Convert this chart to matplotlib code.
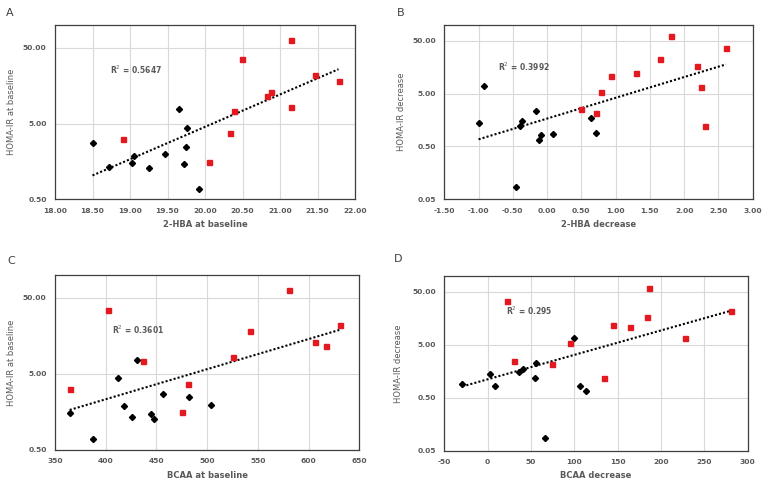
import matplotlib
matplotlib.use("Agg")
import matplotlib.pyplot as plt
import numpy as np
from matplotlib.ticker import FormatStrFormatter, FixedLocator, NullLocator

W, H = 762, 483
GRAY = "#595959"
RED = "#e3191f"

# Panel A: 2-HBA at baseline vs HOMA-IR at baseline
a_x_black = [18.50, 18.72, 19.03, 19.05, 19.25, 19.47, 19.65, 19.76, 19.75, 19.72, 19.92]
a_y_black = [2.74, 1.35, 1.52, 1.88, 1.28, 1.96, 7.7, 4.32, 2.48, 1.46, 0.69]
a_x_red = [18.90, 20.05, 20.33, 20.39, 20.49, 20.83, 20.88, 21.15, 21.15, 21.46, 21.78]
a_y_red = [3.12, 1.55, 3.71, 7.38, 35.1, 11.6, 12.9, 8.3, 63.0, 21.8, 18.5]

# Panel B: 2-HBA decrease vs HOMA-IR decrease
b_x_black = [-1.00, -0.92, -0.45, -0.40, -0.36, -0.16, -0.12, -0.085, 0.086, 0.64, 0.72]
b_y_black = [1.40, 6.9, 0.086, 1.21, 1.55, 2.33, 0.67, 0.81, 0.86, 1.74, 0.90]
b_x_red = [0.49, 0.72, 0.78, 0.93, 1.29, 1.65, 1.81, 2.19, 2.25, 2.31, 2.61]
b_y_red = [2.58, 2.17, 5.46, 11.0, 12.6, 22.6, 62.3, 16.9, 6.8, 1.21, 36.2]

# Panel C: BCAA at baseline vs HOMA-IR at baseline
c_x_black = [364.5, 387.8, 412.4, 417.7, 425.9, 430.8, 444.3, 447.9, 456.1, 482.4, 504.1]
c_y_black = [1.51, 0.70, 4.36, 1.89, 1.36, 7.67, 1.47, 1.28, 2.75, 2.48, 1.97]
c_x_red = [364.5, 402.3, 436.8, 475.5, 481.4, 525.8, 541.9, 580.4, 606.7, 617.2, 631.3]
c_y_red = [3.13, 35.1, 7.37, 1.56, 3.72, 8.32, 18.4, 63.7, 13.0, 11.7, 21.7]

# Panel D: BCAA decrease vs HOMA-IR decrease
d_x_black = [-29.2, 3.1, 8.5, 36.0, 41.0, 54.2, 56.2, 66.2, 99.2, 106.2, 113.8]
d_y_black = [0.91, 1.40, 0.82, 1.55, 1.72, 1.17, 2.32, 0.087, 6.8, 0.84, 0.67]
d_x_red = [22.3, 30.8, 74.6, 94.6, 134.6, 145.0, 164.2, 183.8, 186.2, 228.1, 280.8]
d_y_red = [34.3, 2.53, 2.13, 5.37, 1.17, 12.1, 10.9, 16.6, 59.5, 6.7, 22.2]

r2_labels = ["R$^2$ = 0.5647", "R$^2$ = 0.3992", "R$^2$ = 0.3601", "R$^2$ = 0.295"]


def px_axes(fig, left, top, right, bottom):
    return fig.add_axes([left / W, 1 - bottom / H, (right - left) / W, (bottom - top) / H])


def panel(fig, box, xb, yb, xr, yr, xlim, xticks, xfmt, ylim, yticks, xlabel, ylabel,
          letter, letter_xy, r2, r2_xy, ylab_x, xlab_y):
    ax = px_axes(fig, *box)
    left, top, right, bottom = box
    ax.set_yscale("log")
    ax.set_xlim(*xlim)
    ax.set_ylim(*ylim)
    ax.xaxis.set_major_locator(FixedLocator(xticks))
    ax.yaxis.set_major_locator(FixedLocator(yticks))
    ax.yaxis.set_minor_locator(NullLocator())
    ax.xaxis.set_major_formatter(FormatStrFormatter(xfmt))
    ax.yaxis.set_major_formatter(FormatStrFormatter("%.2f"))
    ax.grid(True, color="#d9d9d9", lw=0.8)
    ax.set_axisbelow(True)
    for s in ax.spines.values():
        s.set_color("#3f3f3f")
        s.set_linewidth(0.9)
    ax.tick_params(length=0, labelsize=5.4, labelcolor=GRAY, pad=6)
    for t in ax.get_xticklabels() + ax.get_yticklabels():
        t.set_fontweight("bold")

    # exponential trendline over all points
    xs = np.array(xb + xr)
    ys = np.array(yb + yr)
    k, b = np.polyfit(xs, np.log(ys), 1)
    xt = np.linspace(xs.min(), xs.max(), 50)
    ax.plot(xt, np.exp(k * xt + b), color="black", ls=(0, (1, 1)), lw=1.5, zorder=2)

    ax.plot(xb, yb, "D", color="black", ms=3.1, mec="black", zorder=3)
    ax.plot(xr, yr, "s", color=RED, ms=3.6, mec=RED, zorder=3)

    fig.text(letter_xy[0] / W, 1 - letter_xy[1] / H, letter, fontsize=8, color="#404040",
             ha="center", va="center")
    fig.text(r2_xy[0] / W, 1 - r2_xy[1] / H, r2, fontsize=5.5, color=GRAY,
             fontweight="bold", ha="left", va="center")
    fig.text(ylab_x / W, 1 - (top + bottom) / 2 / H, ylabel, fontsize=6, color=GRAY,
             rotation=90, ha="center", va="center")
    fig.text((left + right) / 2 / W, 1 - xlab_y / H, xlabel, fontsize=6, color=GRAY,
             fontweight="bold", ha="center", va="center")
    return ax


def main():
    fig = plt.figure(figsize=(W / 100, H / 100), dpi=100)
    fig.patch.set_facecolor("white")

    panel(fig, (55, 25, 355, 199.3), a_x_black, a_y_black, a_x_red, a_y_red,
          (18, 22), np.arange(18, 22.01, 0.5), "%.2f", (0.5, 100), [0.5, 5, 50],
          "2-HBA at baseline", "HOMA-IR at baseline",
          "A", (9.5, 13.5), r2_labels[0], (110, 69.5), 12, 224)
    panel(fig, (444.3, 25, 752.7, 199.3), b_x_black, b_y_black, b_x_red, b_y_red,
          (-1.5, 3), np.arange(-1.5, 3.01, 0.5), "%.2f", (0.05, 100), [0.05, 0.5, 5, 50],
          "2-HBA decrease", "HOMA-IR decrease",
          "B", (401, 13.5), r2_labels[1], (497.5, 66.5), 401, 224)
    panel(fig, (55, 275, 359.3, 450), c_x_black, c_y_black, c_x_red, c_y_red,
          (350, 650), np.arange(350, 651, 50), "%d", (0.5, 100), [0.5, 5, 50],
          "BCAA at baseline", "HOMA-IR at baseline",
          "C", (11.7, 261.5), r2_labels[2], (111.5, 330), 12, 475)
    panel(fig, (444.3, 276, 747.7, 450.7), d_x_black, d_y_black, d_x_red, d_y_red,
          (-50, 300), np.arange(-50, 301, 50), "%d", (0.05, 100), [0.05, 0.5, 5, 50],
          "BCAA decrease", "HOMA-IR decrease",
          "D", (397.7, 259.5), r2_labels[3], (505.5, 311), 399, 475)

    fig.savefig("out.png", dpi=100)


if __name__ == "__main__":
    main()
